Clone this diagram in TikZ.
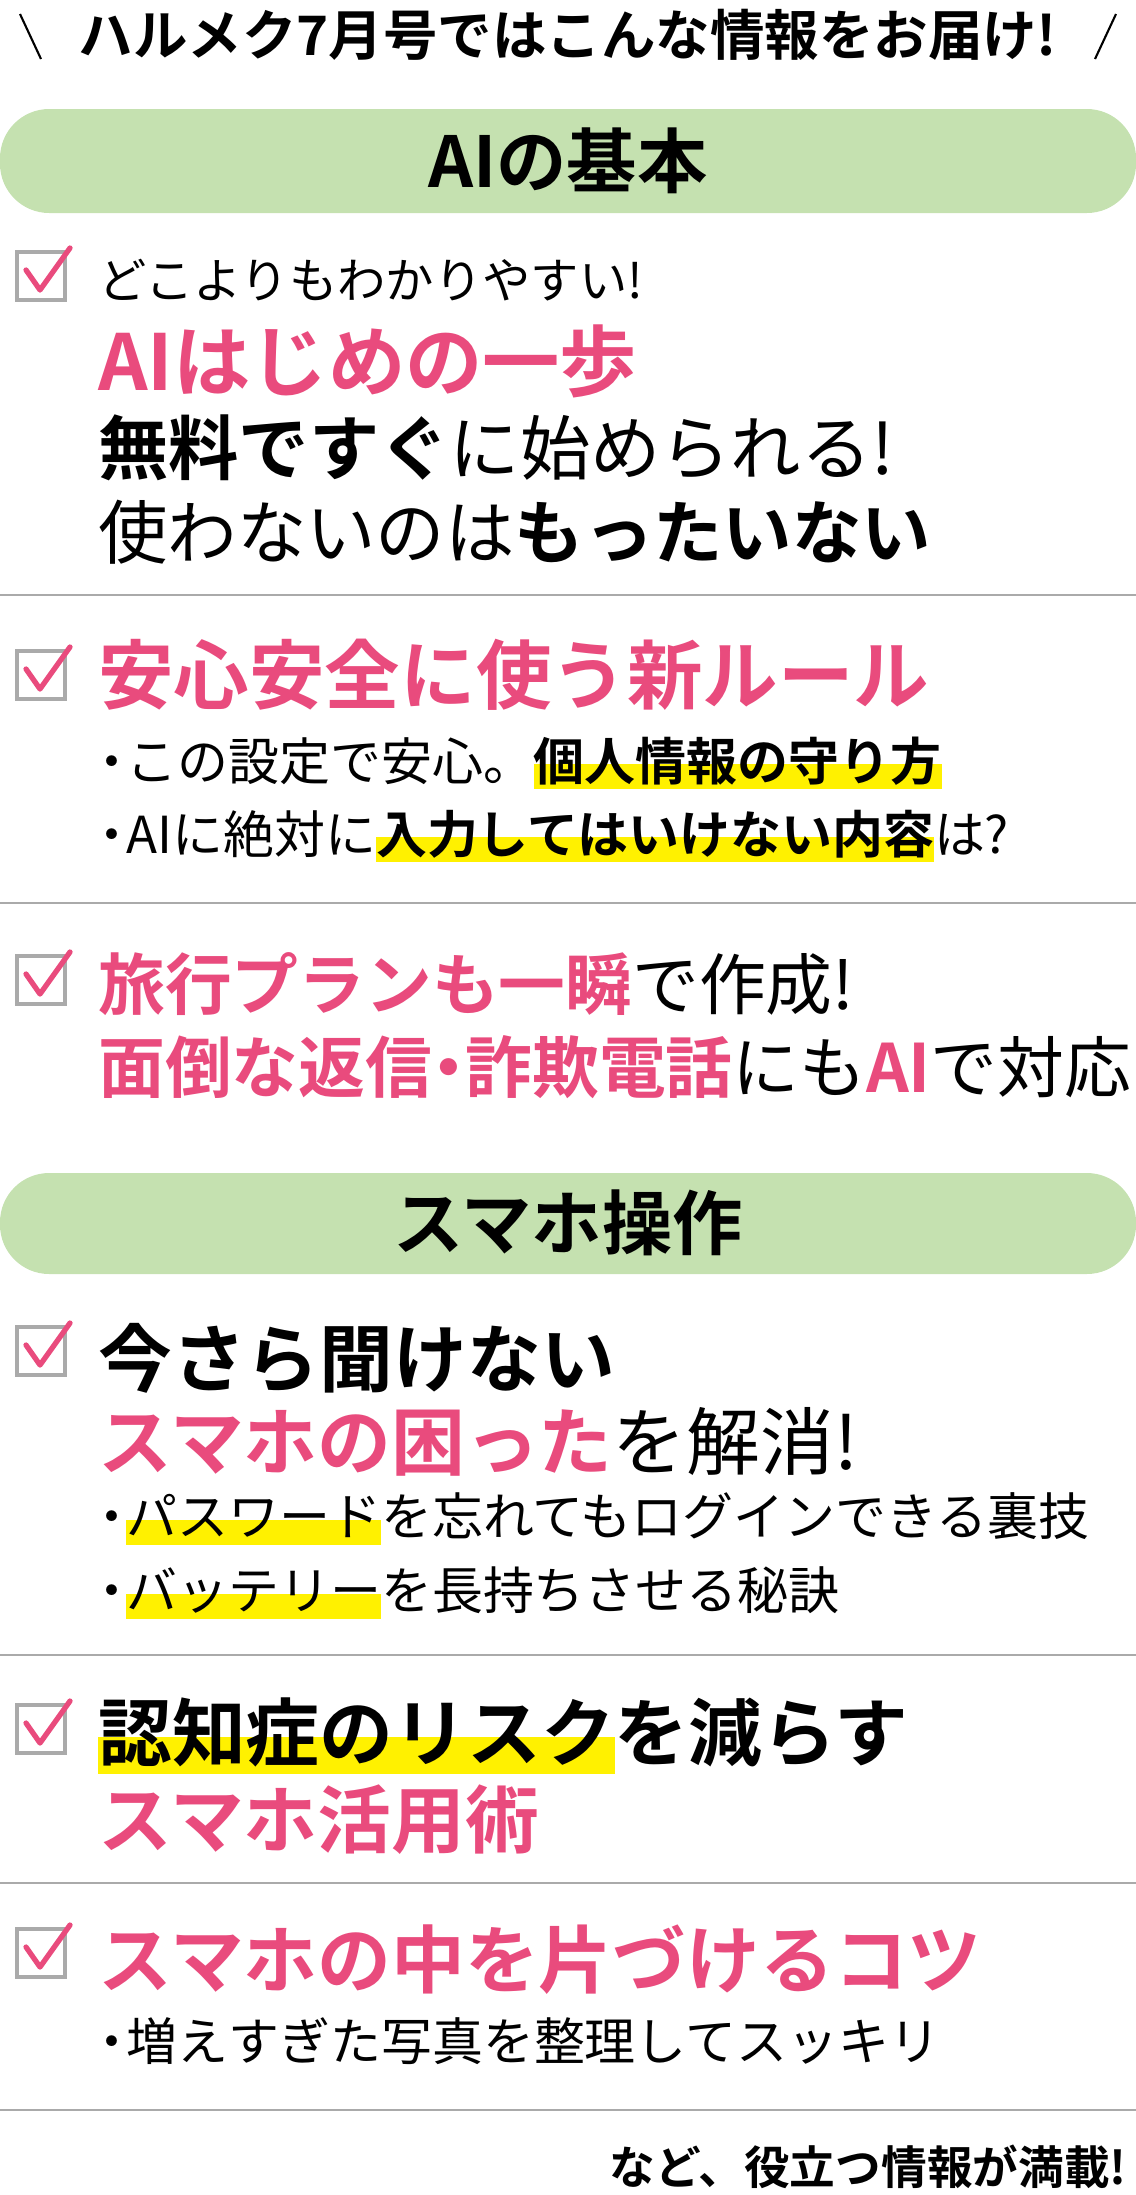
\documentclass[tikz,border=0pt]{standalone}
\usepackage{fontspec}
\setmainfont{Noto Sans CJK JP}[BoldFont={Noto Sans CJK JP Bold}]
\usetikzlibrary{positioning}
\definecolor{pnk}{HTML}{E94B7D}
\definecolor{grn}{HTML}{C5E1B0}
\definecolor{hly}{HTML}{FFF100}
\definecolor{sep}{HTML}{AAAAAA}
\newcommand\hlt[1]{\setbox0\hbox{#1}\rlap{\color{hly}\rule[-0.18em]{\wd0}{0.5em}}\box0}
\newcommand\pk[1]{\textcolor{pnk}{\bfseries #1}}
\newcommand\bul{\makebox[0.55em][c]{・}}
\newcommand\bigsz{\fontsize{44}{48}\selectfont}
\newcommand\midsz{\fontsize{29}{32}\selectfont}
\tikzset{
  txt/.style={anchor=west, inner sep=0pt},
  bar/.style={fill=grn, rounded corners=28pt, draw=none},
  sepline/.style={draw=sep, line width=1.5pt},
  chk/.pic={
    \draw[sep, line width=2pt] (17,-24) rectangle (65,24);
    \draw[pnk, line width=3pt, line cap=round, line join=round] (26,-6) -- (40,14) -- (70,-28);
  }
}
\begin{document}
\begin{tikzpicture}[x=0.02cm, y=-0.02cm]
\useasboundingbox (0,0) rectangle (1136,2195);

% header
\node[inner sep=0pt] (head) at (568,35) {\fontsize{31}{34}\selectfont\bfseries ハルメク7月号ではこんな情報をお届け!};
\draw[line width=1.2pt] (20,14) -- (41,59);
\draw[line width=1.2pt] (1116,14) -- (1095,59);

% AIの基本
\fill[bar] (0,109) rectangle (1136,213);
\node[inner sep=0pt] (t1) at (568,161) {\fontsize{40}{44}\selectfont\bfseries AIの基本};

\pic at (0,276) {chk};
\node[txt] (a1) at (98,280) {\fontsize{27.5}{30}\selectfont どこよりもわかりやすい!};
\node[txt] (a2) at (98,361) {\bigsz\pk{AIはじめの一歩}};
\node[txt] (a3) at (98,448) {\fontsize{40}{44}\selectfont\textbf{無料ですぐ}に始められる!};
\node[txt] (a4) at (98,532) {\fontsize{39.5}{44}\selectfont 使わないのは\textbf{もったいない}};
\draw[sepline] (0,595) -- (1136,595);

\pic at (0,675) {chk};
\node[txt] (b1) at (98,675) {\fontsize{43}{46}\selectfont\pk{安心安全に使う新ルール}};
\node[txt] (b2) at (98,763) {\midsz\bul この設定で安心。\hlt{\bfseries 個人情報の守り方}};
\node[txt] (b3) at (98,836) {\midsz\bul AIに絶対に\hlt{\bfseries 入力してはいけない内容}は?};
\draw[sepline] (0,903) -- (1136,903);

\pic at (0,980) {chk};
\node[txt] (c1) at (98,984) {\fontsize{38}{42}\selectfont\pk{旅行プランも一瞬}で作成!};
\node[txt] (c2) at (98,1067) {\fontsize{38}{42}\selectfont\pk{面倒な返信\makebox[0.5em][c]{・}詐欺電話}にも\pk{AI}で対応};

% スマホ操作
\fill[bar] (0,1173) rectangle (1136,1274);
\node[inner sep=0pt] (t2) at (568,1223) {\fontsize{40}{44}\selectfont\bfseries スマホ操作};

\pic at (0,1351) {chk};
\node[txt] (d1) at (98,1358) {\fontsize{42}{46}\selectfont\bfseries 今さら聞けない};
\node[txt] (d2) at (98,1442) {\fontsize{42}{46}\selectfont\pk{スマホの困った}を解消!};
\node[txt] (d3) at (98,1519) {\midsz\bul\hlt{パスワード}を忘れてもログインできる裏技};
\node[txt] (d4) at (98,1593) {\midsz\bul\hlt{バッテリー}を長持ちさせる秘訣};
\draw[sepline] (0,1655) -- (1136,1655);

\pic at (0,1729) {chk};
\node[txt] (e1) at (98,1736) {\fontsize{42}{46}\selectfont\bfseries \hlt{認知症のリスク}を減らす};
\node[txt] (e2) at (98,1820) {\fontsize{42}{46}\selectfont\pk{スマホ活用術}};
\draw[sepline] (0,1883) -- (1136,1883);

\pic at (0,1953) {chk};
\node[txt] (f1) at (98,1960) {\fontsize{42}{46}\selectfont\pk{スマホの中を片づけるコツ}};
\node[txt] (f2) at (98,2041) {\midsz\bul 増えすぎた写真を整理してスッキリ};
\draw[sepline] (0,2110) -- (1136,2110);

\node[inner sep=0pt, anchor=east] (foot) at (1127,2167) {\fontsize{26}{30}\selectfont\bfseries など、役立つ情報が満載!};
\end{tikzpicture}
\end{document}
